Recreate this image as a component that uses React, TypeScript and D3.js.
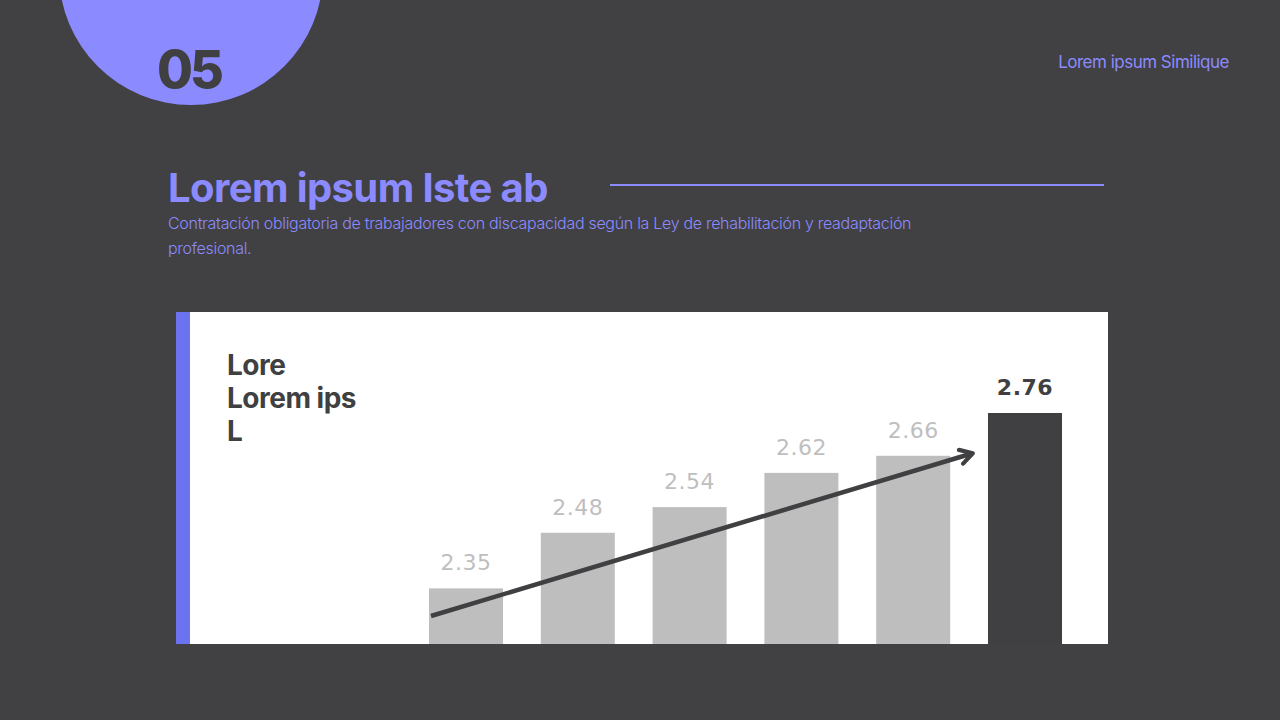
import { useRef, useEffect } from 'react';
import * as d3 from 'd3';

const categories = ['P1', 'P2', 'P3', 'P4', 'P5', 'P6'];
const values = [2.35, 2.48, 2.54, 2.62, 2.66, 2.76];
const valueLabels = ['2.35', '2.48', '2.54', '2.62', '2.66', '2.76'];
const chartTitleLines = ['Lore', 'Lorem ips', 'L'];

const W = 1280;
const H = 720;
const BG = '#414042';
const PURPLE = '#8b8bff';
const DARK = '#403f41';
const GRAY = '#bfbebf';

export default function App() {
  const svgRef = useRef<SVGSVGElement>(null);

  useEffect(() => {
    document.body.style.margin = '0';
    if (!svgRef.current) return;
    const svg = d3.select(svgRef.current);
    svg.selectAll('*').remove();

    svg.append('rect').attr('width', W).attr('height', H).attr('fill', BG);

    // header circle with page number
    svg.append('circle').attr('cx', 191).attr('cy', -27).attr('r', 132).attr('fill', PURPLE);
    svg.append('text')
      .attr('x', 189).attr('y', 88)
      .attr('text-anchor', 'middle')
      .attr('font-family', 'Inter')
      .attr('font-weight', 800)
      .attr('font-size', 52)
      .attr('letter-spacing', -3)
      .attr('fill', DARK)
      .text('05');

    svg.append('text')
      .attr('x', 1229).attr('y', 68)
      .attr('text-anchor', 'end')
      .attr('font-family', 'Inter')
      .attr('font-size', 17)
      .attr('letter-spacing', -0.5)
      .attr('fill', PURPLE)
      .text('Lorem ipsum Similique');

    svg.append('text')
      .attr('x', 168).attr('y', 202)
      .attr('font-family', 'Inter')
      .attr('font-weight', 700)
      .attr('font-size', 40)
      .attr('letter-spacing', -0.6)
      .attr('fill', PURPLE)
      .text('Lorem ipsum Iste ab');

    svg.append('line')
      .attr('x1', 610).attr('x2', 1104)
      .attr('y1', 185).attr('y2', 185)
      .attr('stroke', PURPLE).attr('stroke-width', 2);

    const sub = svg.append('text')
      .attr('font-family', 'Inter')
      .attr('font-weight', 300)
      .attr('font-size', 16)
      .attr('letter-spacing', -0.3)
      .attr('fill', PURPLE);
    sub.append('tspan').attr('x', 168).attr('y', 229)
      .text('Contratación obligatoria de trabajadores con discapacidad según la Ley de rehabilitación y readaptación');
    sub.append('tspan').attr('x', 168).attr('y', 254).text('profesional.');

    // chart panel
    const panel = { left: 176, top: 312, right: 1108, bottom: 644 };
    svg.append('rect')
      .attr('x', panel.left).attr('y', panel.top)
      .attr('width', panel.right - panel.left).attr('height', panel.bottom - panel.top)
      .attr('fill', '#ffffff');
    svg.append('rect')
      .attr('x', panel.left).attr('y', panel.top)
      .attr('width', 14).attr('height', panel.bottom - panel.top)
      .attr('fill', '#6b73f0');

    const heading = svg.append('text')
      .attr('font-family', 'Inter')
      .attr('font-weight', 700)
      .attr('font-size', 28)
      .attr('letter-spacing', -0.5)
      .attr('fill', DARK);
    chartTitleLines.forEach((t, i) => {
      heading.append('tspan').attr('x', 227).attr('y', 375 + i * 33).text(t);
    });

    const x = d3.scaleBand<string>()
      .domain(categories)
      .range([429, 1062])
      .paddingInner(0.338)
      .paddingOuter(0);

    const y = d3.scaleLinear()
      .domain([2.22, 2.76])
      .range([panel.bottom, 413]);

    const last = categories.length - 1;

    svg.append('g')
      .selectAll('rect')
      .data(values)
      .join('rect')
      .attr('x', (_, i) => x(categories[i]) ?? 0)
      .attr('y', (d) => y(d))
      .attr('width', x.bandwidth())
      .attr('height', (d) => panel.bottom - y(d))
      .attr('fill', (_, i) => (i === last ? DARK : GRAY));

    svg.append('g')
      .selectAll('text')
      .data(values)
      .join('text')
      .attr('x', (_, i) => (x(categories[i]) ?? 0) + x.bandwidth() / 2)
      .attr('y', (d) => y(d) - 18)
      .attr('text-anchor', 'middle')
      .attr('font-family', 'DejaVu Sans')
      .attr('font-size', 22)
      .attr('font-weight', (_, i) => (i === last ? 700 : 400))
      .attr('letter-spacing', 0.5)
      .attr('fill', (_, i) => (i === last ? DARK : GRAY))
      .text((_, i) => valueLabels[i]);

    // trend arrow
    const defs = svg.append('defs');
    defs.append('marker')
      .attr('id', 'arrowhead')
      .attr('viewBox', '0 0 10 10')
      .attr('refX', 7).attr('refY', 5)
      .attr('markerWidth', 4.2).attr('markerHeight', 4.2)
      .attr('orient', 'auto')
      .append('path')
      .attr('d', 'M1.5,1.2 L8,5 L1.5,8.8')
      .attr('fill', 'none')
      .attr('stroke', DARK)
      .attr('stroke-width', 2.2)
      .attr('stroke-linecap', 'round')
      .attr('stroke-linejoin', 'round');

    const x0 = (x(categories[0]) ?? 0) + 2;
    const x1 = (x(categories[last]) ?? 0) - 17;
    svg.append('line')
      .attr('x1', x0).attr('y1', panel.bottom - 28)
      .attr('x2', x1).attr('y2', y(values[last - 1]) - 2)
      .attr('stroke', DARK)
      .attr('stroke-width', 4.5)
      .attr('marker-end', 'url(#arrowhead)');
  }, []);

  return (
    <svg
      ref={svgRef}
      width={W}
      height={H}
      viewBox={`0 0 ${W} ${H}`}
      style={{ display: 'block', position: 'absolute', left: 0, top: 0 }}
    />
  );
}
